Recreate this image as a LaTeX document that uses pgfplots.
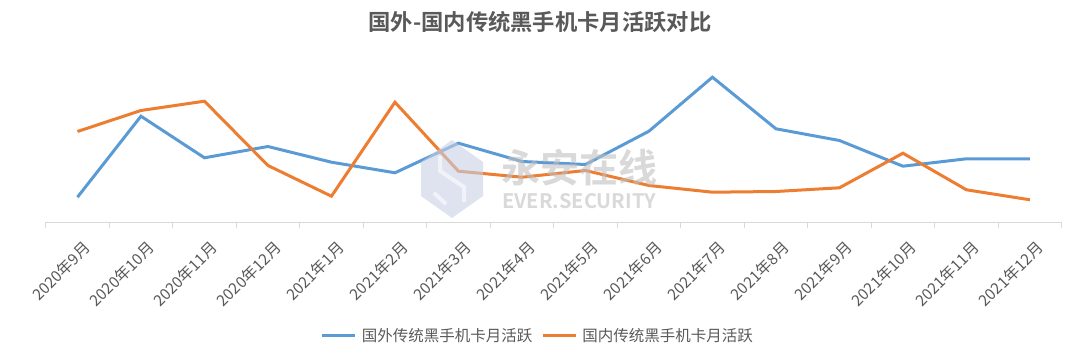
\documentclass[border=0pt]{standalone}
\usepackage{pgfplots}
\pgfplotsset{compat=1.18}
\usepackage{fontspec}
\newfontfamily\cjk{Noto Sans CJK SC}
\newfontfamily\cjkb{Noto Sans CJK SC Bold}
\definecolor{sblue}{HTML}{5B9BD5}
\definecolor{sorange}{HTML}{ED7D31}
\definecolor{txt}{HTML}{595959}
\definecolor{axl}{HTML}{D9D9D9}
\definecolor{wm}{HTML}{C8D0E4}
\begin{document}
\begin{tikzpicture}[x=1pt,y=1pt]
\useasboundingbox (0,0) rectangle (1080,359);
\node[text=txt, font=\cjkb\fontsize{22.3}{25}\selectfont] at (540,337) {国外-国内传统黑手机卡月活跃对比};
\begin{axis}[
  at={(45.7pt,136.5pt)}, anchor=south west,
  width=1016pt, height=170pt, scale only axis,
  xmin=-0.5, xmax=15.5, ymin=0, ymax=170,
  axis x line*=bottom, axis y line=none,
  x axis line style={axl, line width=1.3pt, -},
  xtick={0,...,15},
  xticklabels={2020年9月,2020年10月,2020年11月,2020年12月,2021年1月,2021年2月,2021年3月,2021年4月,2021年5月,2021年6月,2021年7月,2021年8月,2021年9月,2021年10月,2021年11月,2021年12月},
  major tick length=0pt,
  minor xtick={-0.5,0.5,...,15.5},
  minor tick length=6pt,
  tick align=outside,
  minor tick style={axl, line width=1.3pt},
  xticklabel style={xshift=5pt, yshift=-17pt, rotate=45, anchor=north east, text=txt, font=\cjk\fontsize{15.5}{17}\selectfont, inner sep=0pt},
  legend columns=2,
  legend style={at={(0.4845,-0.665)}, anchor=center, draw=none, fill=none,
    font=\cjk\fontsize{15.5}{17}\selectfont, text=txt,
    /tikz/every even column/.append style={column sep=7pt},
    /tikz/every odd column/.append style={column sep=3pt}},
  legend image code/.code={\draw[#1, line width=3pt] (0pt,0pt) -- (33pt,0pt);},
  clip=false,
]
\addplot[sblue, line width=3pt] coordinates {
(0,25.3) (1,106.3) (2,64.7) (3,76) (4,60.3) (5,49.7) (6,79.3) (7,61) (8,58) (9,91.3) (10,145.3) (11,93.7) (12,82) (13,56.3) (14,63.7) (15,63.7)};
\addlegendentry{国外传统黑手机卡月活跃}
\addplot[sorange, line width=3pt] coordinates {
(0,91) (1,112) (2,121.3) (3,57) (4,26.3) (5,120.3) (6,51.3) (7,45.3) (8,52) (9,37) (10,30.3) (11,31) (12,34.7) (13,69.3) (14,32.7) (15,22.7)};
\addlegendentry{国内传统黑手机卡月活跃}
\end{axis}
% watermark
\begin{scope}[opacity=0.6]
\fill[wm] (452,219) -- (483,197) -- (483,163) -- (452,141) -- (421,163) -- (421,197) -- cycle;
\draw[white, line width=4pt] (440,203) -- (440,188) -- (464,172) -- (464,157);
\draw[white, line width=4pt] (434,166) -- (446,155);
\node[text=gray!50, font=\cjkb\fontsize{39}{41}\selectfont, anchor=west, inner sep=0pt] at (501,191.5) {永安在线};
\node[text=gray!50, font=\cjkb\fontsize{20}{22}\selectfont, anchor=west, inner sep=0pt] at (502,157.5) {EVER.SECURITY};
\end{scope}
\end{tikzpicture}
\end{document}
